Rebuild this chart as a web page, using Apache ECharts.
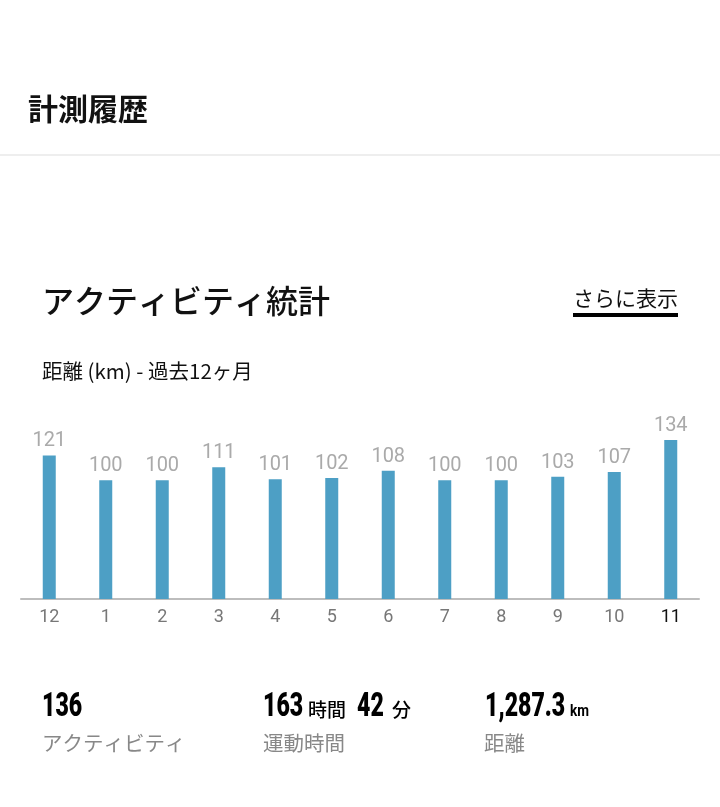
<!DOCTYPE html>
<html>
<head>
<meta charset="utf-8">
<script src="https://cdn.jsdelivr.net/npm/echarts@6/dist/echarts.min.js"></script>
<style>
    html, body { margin: 0; padding: 0; background: #fff; }
    #chartWrapper { width: 720px; height: 807px; }
</style>
</head>
<body>
<div id="chartWrapper"></div>
<script>
// 過去12ヶ月の距離 (km)
let months = ['12', '1', '2', '3', '4', '5', '6', '7', '8', '9', '10', '11'];
let distances = [121, 100, 100, 111, 101, 102, 108, 100, 100, 103, 107, 134];
let currentIndex = 11;

// 集計
let statValues = ['136', '163', '42', '1,287.3'];
let statUnits = ['時間', '分', 'km'];
let statLabels = ['アクティビティ', '運動時間', '距離'];

let jp = '"Noto Sans CJK JP", "Noto Sans", sans-serif';
let num = 'Roboto, "Noto Sans", sans-serif';

function txt(x, y, text, font, fill, extra) {
    let el = {
        type: 'text',
        x: x,
        y: y,
        silent: true,
        style: {
            x: 0,
            y: 0,
            text: text,
            font: font,
            fill: fill,
            textAlign: 'left',
            textVerticalAlign: 'middle',
            align: 'left',
            verticalAlign: 'middle'
        }
    };
    if (extra) {
        Object.assign(el, extra);
    }
    return el;
}

function initDisChart() {
    let myChart = echarts.init(document.getElementById('chartWrapper'));

    let bigFont = '900 34px ' + num;
    let squeeze = { scaleX: 0.68, scaleY: 1 };

    let graphics = [
        txt(28, 109, '計測履歴', 'bold 30px ' + jp, '#111'),
        { type: 'rect', silent: true, shape: { x: 0, y: 154, width: 720, height: 2 }, style: { fill: '#eeeeee' } },
        txt(42, 301, 'アクティビティ統計', '500 32px ' + jp, '#111'),
        txt(573, 298, 'さらに表示', '21px ' + jp, '#111'),
        { type: 'rect', silent: true, shape: { x: 573, y: 313, width: 105, height: 4 }, style: { fill: '#000' } },
        txt(42, 371, '距離 (km) - 過去12ヶ月', '20.5px ' + jp, '#111'),

        // 集計の数値
        txt(42, 707, statValues[0], bigFont, '#000', squeeze),
        txt(263, 707, statValues[1], bigFont, '#000', squeeze),
        txt(308, 710, statUnits[0], '500 19px ' + jp, '#000'),
        txt(357, 707, statValues[2], bigFont, '#000', squeeze),
        txt(392, 710, statUnits[1], '500 19px ' + jp, '#000'),
        txt(485, 707, statValues[3], bigFont, '#000', squeeze),
        txt(570, 712, statUnits[2], 'bold 17px ' + num, '#000', { scaleX: 0.8, scaleY: 1 }),

        txt(42, 743, statLabels[0], '20.5px ' + jp, '#888'),
        txt(263, 743, statLabels[1], '20.5px ' + jp, '#888'),
        txt(484, 743, statLabels[2], '20.5px ' + jp, '#888')
    ];

    let option = {
        animation: false,
        grid: {
            left: 21,
            right: 21,
            top: 421,
            bottom: 208
        },
        graphic: graphics,
        xAxis: [{
            type: 'category',
            data: months,
            axisLine: {
                lineStyle: { color: '#bdbdbd', width: 2 }
            },
            axisTick: {
                alignWithLabel: true,
                length: 6,
                lineStyle: { color: '#bdbdbd', width: 2 }
            },
            axisLabel: {
                margin: 9,
                fontSize: 18,
                fontFamily: 'Roboto',
                color: function (value, index) {
                    return index === currentIndex ? '#111' : '#777';
                }
            }
        }, {
            // 今月だけ黒い目盛り
            type: 'category',
            data: months,
            position: 'bottom',
            axisLine: { show: false },
            axisLabel: { show: false },
            axisTick: {
                alignWithLabel: true,
                length: 7,
                interval: function (index) {
                    return index === currentIndex;
                },
                lineStyle: { color: '#111', width: 2 }
            }
        }],
        yAxis: {
            type: 'value',
            min: 0,
            max: 150,
            show: false
        },
        series: [{
            type: 'bar',
            data: distances,
            barWidth: 13,
            itemStyle: { color: '#4d9fc5' },
            label: {
                show: true,
                position: 'top',
                distance: 4,
                fontSize: 20,
                fontFamily: 'Roboto',
                color: '#aaaaaa'
            }
        }]
    };

    myChart.setOption(option);
}

initDisChart();
</script>
</body>
</html>
